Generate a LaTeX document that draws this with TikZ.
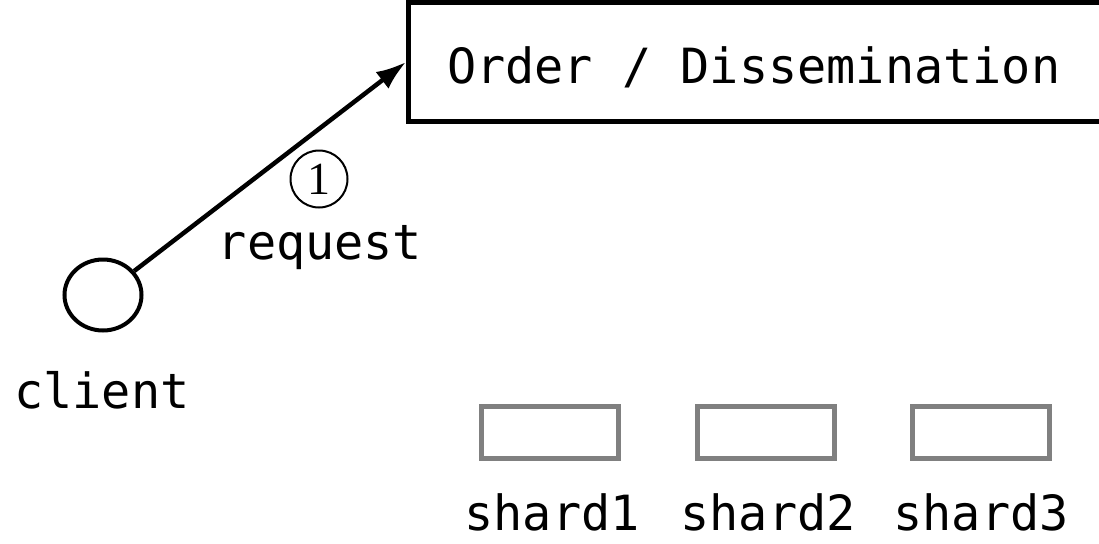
\documentclass[tikz,border=0pt]{standalone}
\usepackage{fontspec}
\newfontfamily\monof{DejaVu Sans Mono}
\newfontfamily\serifdigit{Liberation Serif}
\usetikzlibrary{arrows.meta,shapes.geometric}
\begin{document}
\begin{tikzpicture}[x=1pt,y=-1pt,
  lbl/.style={font=\monof\fontsize{48.5}{58}\selectfont, inner sep=0pt, anchor=base},
  shardbox/.style={draw=gray, line width=5pt, minimum width=137pt, minimum height=52pt, inner sep=0pt},
  msg/.style={line width=4.5pt, -{Latex[length=30pt,width=21pt]}}]
\useasboundingbox (0,0) rectangle (1099,543);
\clip (0,0) rectangle (1099,543);

% ordering / dissemination service (runs off the right edge)
\node[draw, line width=5pt, minimum width=720pt, minimum height=118pt, inner sep=0pt, anchor=west] (order) at (406,62) {};
\node[lbl, anchor=base west] (ordertxt) at (447,83) {Order / Dissemination};

% client
\node[ellipse, draw, line width=4pt, minimum width=77pt, minimum height=71pt, inner sep=0pt] (client) at (103,295) {};
\node[lbl] (clienttxt) at (102,408) {client};

% request message
\draw[msg] (client) -- (order.west);
\node[circle, draw, line width=2pt, minimum size=57pt, inner sep=0pt, font=\serifdigit\fontsize{46}{46}\selectfont] (step1) at (319,179) {1};
\node[lbl] (reqtxt) at (320,259) {request};

% shards
\node[shardbox] (s1) at (550,432) {};
\node[shardbox] (s2) at (766,432) {};
\node[shardbox] (s3) at (981,432) {};
\node[lbl] (s1txt) at (552,530) {shard1};
\node[lbl] (s2txt) at (768,530) {shard2};
\node[lbl] (s3txt) at (981,530) {shard3};
\end{tikzpicture}
\end{document}
